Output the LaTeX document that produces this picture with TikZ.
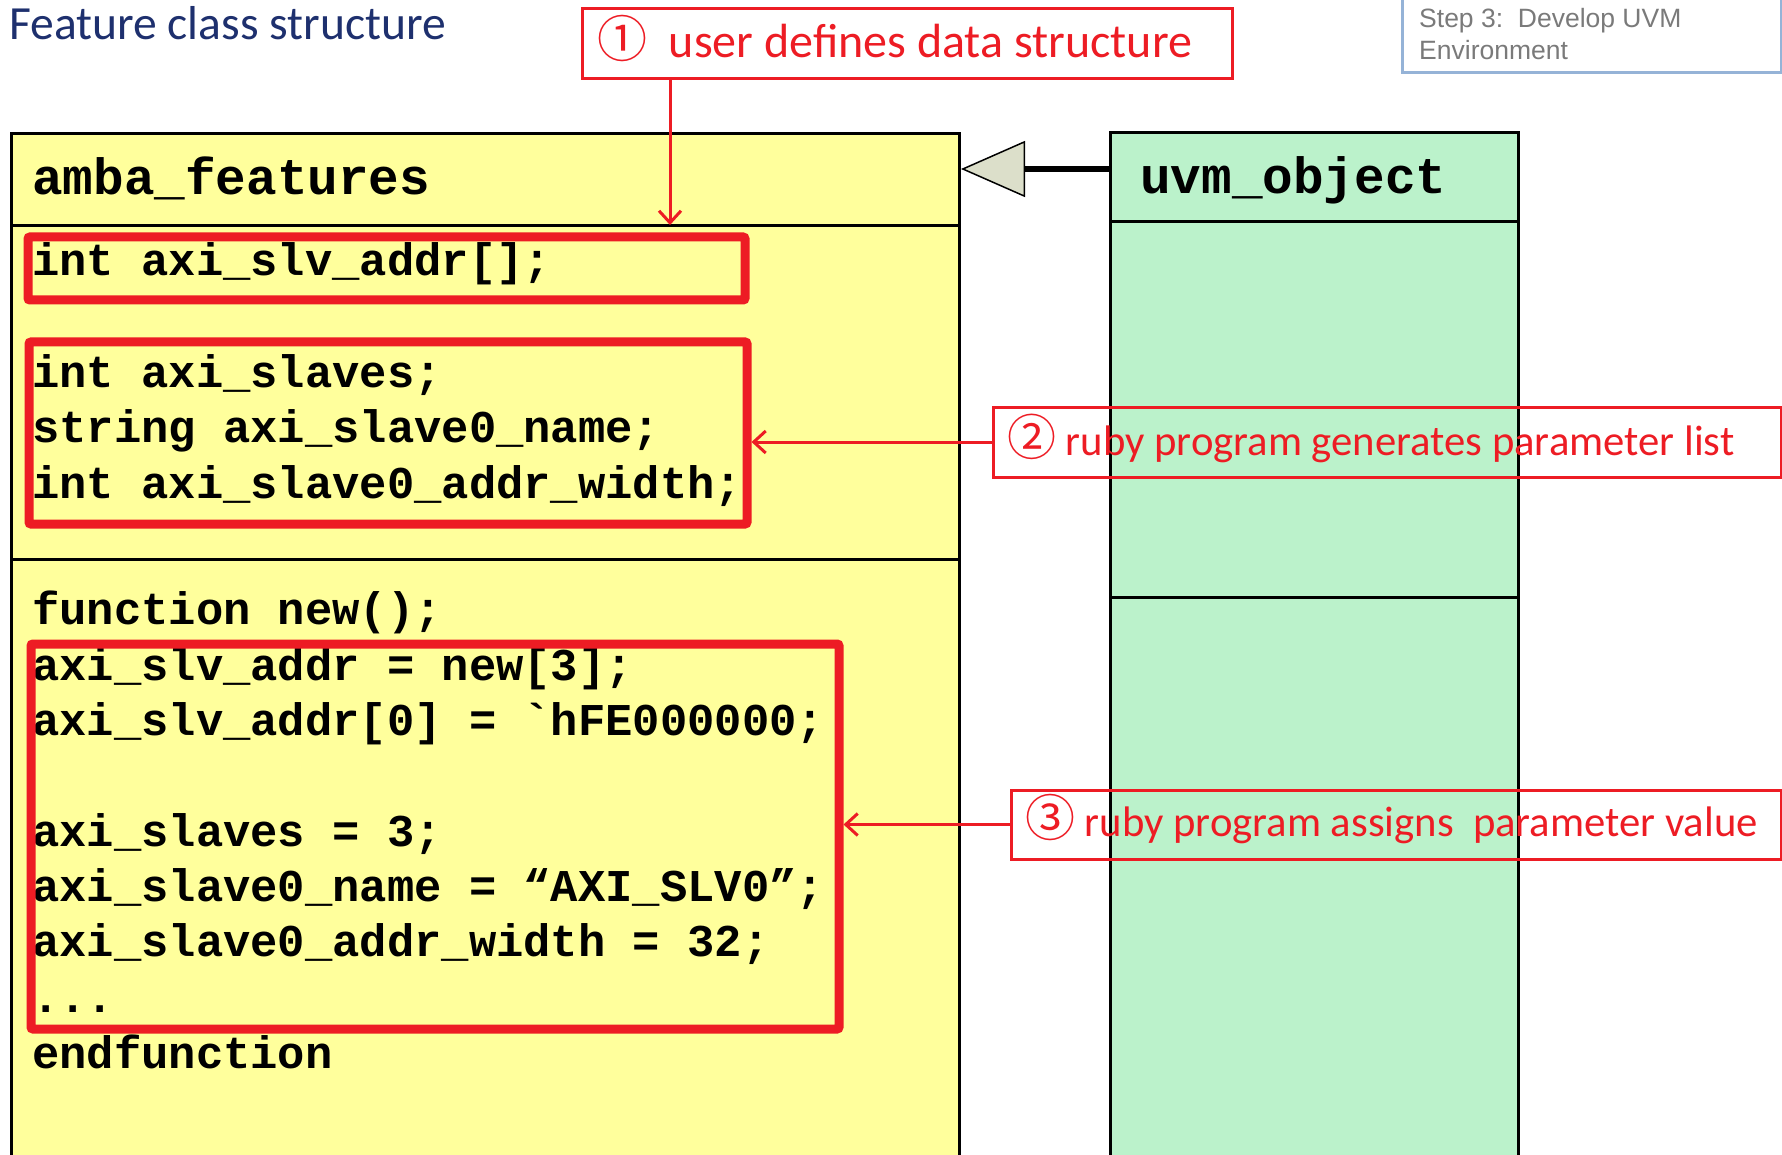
\documentclass[tikz,border=0pt]{standalone}
\usepackage{fontspec}
\setmainfont{Carlito}
\setmonofont{Liberation Mono}
\newfontfamily\cjkfont{Noto Sans CJK SC}
\newfontfamily\arialfont{Liberation Sans}
\usetikzlibrary{arrows.meta}

\definecolor{classyellow}{HTML}{FFFF9C}
\definecolor{classgreen}{HTML}{BBF2CB}
\definecolor{notered}{HTML}{ED1C24}
\definecolor{titleblue}{HTML}{1E306E}
\definecolor{stepblue}{HTML}{95B3D7}
\definecolor{stepgray}{HTML}{7A7A7A}
\definecolor{inherit}{HTML}{DCDFCA}

\begin{document}
\begin{tikzpicture}[x=1pt,y=-1pt,
  classbox/.style={draw=black, line width=3pt, rectangle, inner sep=0pt, anchor=north west},
  divider/.style={draw=black, line width=3pt},
  classname/.style={font=\ttfamily\bfseries\fontsize{51}{60}\selectfont, anchor=base west, inner sep=0pt},
  code/.style={font=\ttfamily\bfseries\fontsize{45.5}{55}\selectfont, anchor=base west, inner sep=0pt},
  hilite/.style={draw=notered, line width=9pt, rectangle, rounded corners=2pt, inner sep=0pt, anchor=north west},
  notebox/.style={draw=notered, line width=3pt, rectangle, inner sep=0pt, anchor=north west},
  notetext/.style={text=notered, anchor=base west, inner sep=0pt},
  redarrow/.style={draw=notered, line width=3pt, -{Straight Barb[length=12pt,width=22pt]}},
]
\useasboundingbox (0,0) rectangle (1782,1155);

% page title
\node[anchor=base west, inner sep=0pt, text=titleblue, font=\fontsize{47.6}{56}\selectfont]
  (title) at (9,40) {Feature class structure};

% step tag in the top right corner
\node[draw=stepblue, line width=3pt, rectangle, inner sep=0pt, anchor=south west,
      minimum width=379pt, minimum height=90pt] (stepbox) at (1400.5,74.5) {};
\node[anchor=base west, inner sep=0pt, text=stepgray, font=\arialfont\fontsize{26.5}{31}\selectfont]
  (step1) at (1419,28) {Step 3:\ \ Develop UVM};
\node[anchor=base west, inner sep=0pt, text=stepgray, font=\arialfont\fontsize{26.5}{31}\selectfont]
  (step2) at (1419,60) {Environment};

% class boxes
\node[classbox, fill=classyellow, minimum width=948pt, minimum height=1045pt] (amba) at (10,132) {};
\node[classbox, fill=classgreen, minimum width=408pt, minimum height=1045pt] (uvm) at (1109,131) {};

\draw[divider] (amba.west |- 0,226) -- (amba.east |- 0,226);
\draw[divider] (amba.west |- 0,559) -- (amba.east |- 0,559);
\draw[divider] (uvm.west |- 0,222) -- (uvm.east |- 0,222);
\draw[divider] (uvm.west |- 0,597) -- (uvm.east |- 0,597);

% generalisation: amba_features extends uvm_object
\draw[line width=5.5pt, -{Triangle[length=64pt,width=56pt,fill=inherit,line width=1.5pt]}]
  (uvm.west |- 0,169) -- (amba.east |- 0,169);

% class names
\node[classname] (ambaname) at (32,195) {amba\_features};
\node[classname] (uvmname) at (1140,194) {uvm\_object};

% members
\node[code] (m1) at (32,276) {int axi\_slv\_addr[];};
\node[code] (m2) at (32,387) {int axi\_slaves;};
\node[code] (m3) at (32,442.5) {string axi\_slave0\_name;};
\node[code] (m4) at (32,498) {int axi\_slave0\_addr\_width;};

% constructor
\node[code] (f0) at (32,624) {function new();};
\node[code] (f1) at (32,680) {axi\_slv\_addr = new[3];};
\node[code] (f2) at (32,735) {axi\_slv\_addr[0] = `hFE000000;};
\node[code] (f3) at (32,846) {axi\_slaves = 3;};
\node[code] (f4) at (32,901) {axi\_slave0\_name = “AXI\_SLV0”;};
\node[code] (f5) at (32,956.5) {axi\_slave0\_addr\_width = 32;};
\node[code] (f6) at (32,1012) {...};
\node[code] (f7) at (32,1068.5) {endfunction};

% highlighted regions
\node[hilite, minimum width=717pt, minimum height=63pt] (hA) at (23.5,232.5) {};
\node[hilite, minimum width=718pt, minimum height=182pt] (hB) at (24.5,337.5) {};
\node[hilite, minimum width=808pt, minimum height=385pt] (hC) at (26.5,639.5) {};

% notes
\node[notebox, minimum width=650pt, minimum height=70pt] (n1) at (580.5,7.5) {};
\node[notetext, font=\fontsize{48}{56}\selectfont] (t1) at (597,58)
  {{\cjkfont\fontsize{50}{56}\selectfont ①}\ \ user defines data structure};

\node[notebox, minimum width=788pt, minimum height=70pt] (n2) at (991.5,405.5) {};
\node[notetext, font=\fontsize{42.7}{50}\selectfont] (t2) at (1007,455)
  {{\cjkfont\fontsize{49}{50}\selectfont ②}\ ruby program generates parameter list};

\node[notebox, minimum width=770pt, minimum height=69pt] (n3) at (1009.5,788.5) {};
\node[notetext, font=\fontsize{42.7}{50}\selectfont] (t3) at (1025,836)
  {{\cjkfont\fontsize{50}{50}\selectfont ③}\ ruby program assigns\ \ parameter value};

% note connectors
\coordinate (tip1) at (670,225);
\draw[redarrow] (tip1 |- n1.south) -- (tip1);
\draw[redarrow] (n2.west) -- (hB.east |- n2.west);
\draw[redarrow] (n3.west) -- (hC.east |- n3.west);
\end{tikzpicture}
\end{document}
